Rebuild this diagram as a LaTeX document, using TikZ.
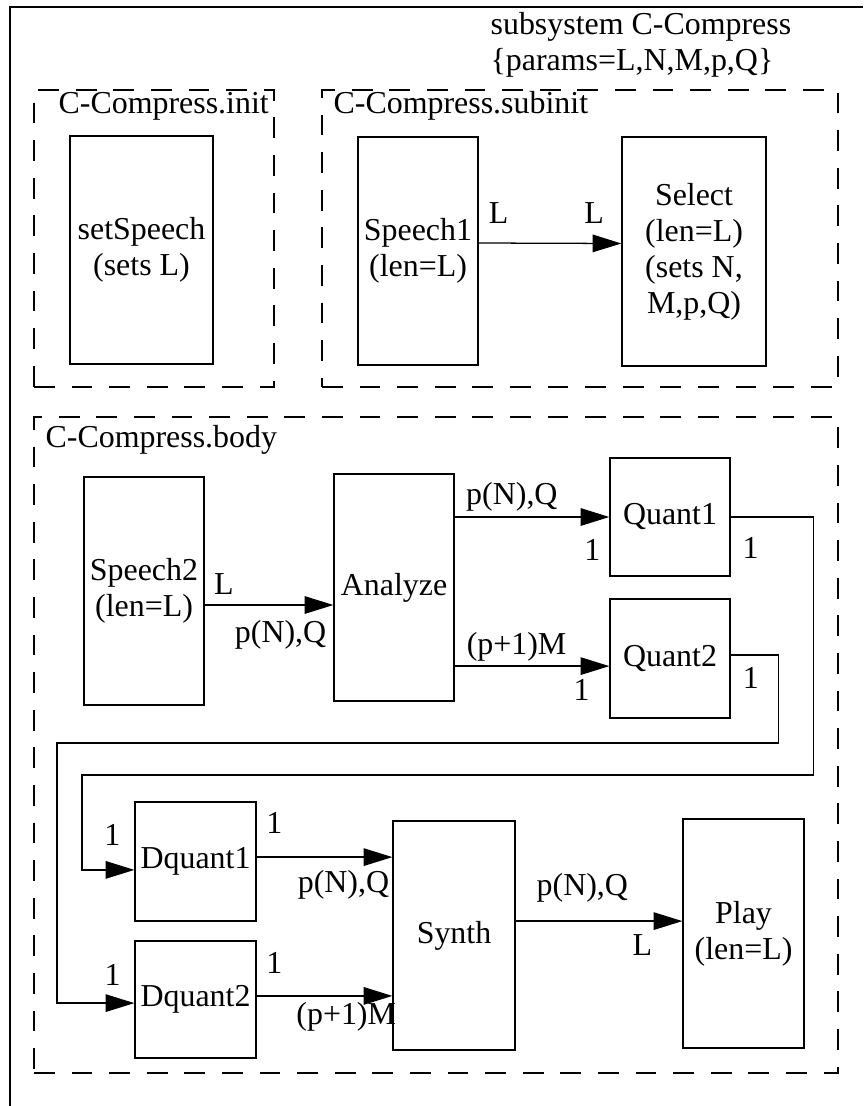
\documentclass[tikz,border=0pt]{standalone}
\usepackage{fontspec}
\setmainfont{Liberation Serif}
\usetikzlibrary{positioning, arrows.meta}

\begin{document}
\begin{tikzpicture}[
    x=0.025cm, y=-0.025cm,
    font=\fontsize{22.7pt}{25.6pt}\selectfont,
    line width=0.9pt,
    % Standard block styles
    block/.style={
        draw=black,
        rectangle,
        align=center,
        inner sep=0pt,
        minimum width=3cm
    },
    % Dashed phase groups
    group/.style={
        draw=black,
        dash pattern=on 0.52cm off 0.42cm,
        rectangle,
        inner sep=0pt
    },
    lbl/.style={inner sep=1pt},
    arrow/.style={-{Triangle[length=0.72cm, width=0.44cm]}}
]
    \useasboundingbox (0,0) rectangle (863,1106);

    % outer subsystem frame (cut off at right and bottom)
    \draw (10,1106) |- (863,7);
    \node (subsys) [anchor=west, align=left, inner sep=0pt] at (490,45)
        {subsystem C-Compress\\\{params=L,N,M,p,Q\}};

    % ==========================================
    % 1. INIT & SUBINIT
    % ==========================================

    \node (init_grp) [group, minimum width=6cm, minimum height=7.425cm] at (154,238.5) {};
    \node (subinit_grp) [group, minimum width=12.9cm, minimum height=7.425cm] at (580,238.5) {};
    \node (init_lbl) [anchor=base west, inner sep=0pt] at (58,113) {C-Compress.init};
    \node (subinit_lbl) [anchor=base west, inner sep=0pt] at (333,113) {C-Compress.subinit};

    \node (set_speech) [block, minimum width=3.575cm, minimum height=5.7cm] at (141.5,250) {
        setSpeech\\(sets L)
    };
    \node (speech_one) [block, minimum height=5.7cm] at (418,251) {
        Speech1\\(len=L)
    };
    \node (select) [block, minimum width=3.6cm, minimum height=5.725cm] at (694,251.5) {
        Select\\(len=L)\\(sets N,\\M,p,Q)
    };

    \draw [arrow] ([yshift=0.2cm]speech_one.east) -- ([yshift=0.2cm]select.west)
        node[lbl, pos=0.14, yshift=0.75cm] (lbl_s1_out) {L}
        node[lbl, pos=0.81, yshift=0.75cm] (lbl_sel_in) {L};

    % ==========================================
    % 2. BODY
    % ==========================================

    \node (body_grp) [group, minimum width=20.1cm, minimum height=16.4cm] at (436,745) {};
    \node (body_lbl) [anchor=base west, inner sep=0pt] at (45,447) {C-Compress.body};

    \node (speech_two) [block, minimum height=5.7cm] at (144,591) {Speech2\\(len=L)};
    \node (analyze) [block, minimum height=5.675cm] at (394,587.5) {Analyze};
    \node (quant_one) [block, minimum height=2.95cm] at (670,517) {Quant1};
    \node (quant_two) [block, minimum height=2.975cm] at (670,658.5) {Quant2};
    \node (dquant_one) [block, minimum width=3.025cm, minimum height=2.975cm] at (195.5,861.5) {Dquant1};
    \node (dquant_two) [block, minimum width=3.025cm, minimum height=2.925cm] at (195.5,999.5) {Dquant2};
    \node (synth) [block, minimum width=3.05cm, minimum height=5.725cm] at (454,935.5) {Synth};
    \node (play) [block, minimum width=3.025cm, minimum height=5.725cm] at (743.5,933.5) {Play\\(len=L)};

    \coordinate (s2_out) at ([yshift=-0.35cm]speech_two.east);
    \coordinate (q2_in) at ([yshift=-0.19cm]quant_two.west);
    \coordinate (dq1_out) at ([yshift=0.11cm]dquant_one.east);
    \coordinate (dq2_out) at ([yshift=0.09cm]dquant_two.east);
    \coordinate (syn_out) at ([yshift=0.36cm]synth.east);

    % analysis side
    \draw [arrow] (s2_out) -- (s2_out -| analyze.west)
        node[lbl, pos=0.15, yshift=0.525cm] (lbl_s2_out) {L}
        node[lbl, pos=0.59, yshift=-0.75cm] (lbl_an_in) {p(N),Q};
    \draw [arrow] (analyze.east |- quant_one.west) -- (quant_one.west)
        node[lbl, pos=0.37, yshift=0.5cm] (lbl_an_out1) {p(N),Q}
        node[lbl, pos=0.89, yshift=-0.825cm] (lbl_q1_in) {1};
    \draw [arrow] (analyze.east |- q2_in) -- (q2_in)
        node[lbl, pos=0.40, yshift=0.475cm] (lbl_an_out2) {(p+1)M}
        node[lbl, pos=0.82, yshift=-0.6cm] (lbl_q2_in) {1};

    % feedback wires to the dequantizers
    \draw [arrow] (quant_one.east) -- ++(83,0)
        node[lbl, pos=0.24, yshift=-0.775cm] (lbl_q1_out) {1}
        |- (82,775) |- ([yshift=-0.21cm]dquant_one.west)
        node[lbl, pos=0.79, yshift=0.875cm] (lbl_dq1_in) {1};
    \draw [arrow] ([yshift=0.09cm]quant_two.east) -- ++(48,0)
        node[lbl, pos=0.42, yshift=-0.575cm] (lbl_q2_out) {1}
        |- (57,743) |- ([yshift=-0.09cm]dquant_two.west)
        node[lbl, pos=0.86, yshift=0.7cm] (lbl_dq2_in) {1};

    % synthesis side
    \draw [arrow] (dq1_out) -- (dq1_out -| synth.west)
        node[lbl, pos=0.13, yshift=0.85cm] (lbl_dq1_out) {1}
        node[lbl, pos=0.64, yshift=-0.7cm] (lbl_syn_in1) {p(N),Q};
    \draw [arrow] (dq2_out) -- (dq2_out -| synth.west)
        node[lbl, pos=0.13, yshift=0.825cm] (lbl_dq2_out) {1}
        node[lbl, pos=0.66, yshift=-0.525cm] (lbl_syn_in2) {(p+1)M};
    \draw [arrow] (syn_out) -- (syn_out -| play.west)
        node[lbl, pos=0.40, yshift=0.825cm] (lbl_syn_out) {p(N),Q}
        node[lbl, pos=0.76, yshift=-0.6cm] (lbl_play_in) {L};

\end{tikzpicture}
\end{document}
